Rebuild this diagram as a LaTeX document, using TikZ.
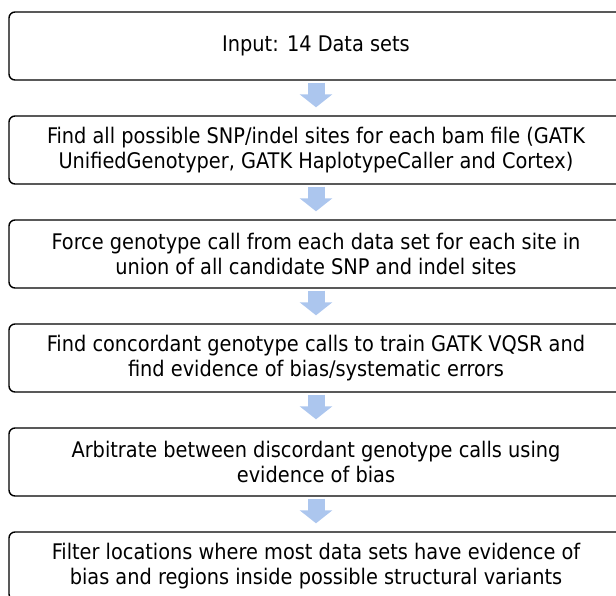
\documentclass[tikz,border=0pt]{standalone}
\usepackage{fontspec}
\setmainfont{DejaVu Sans Condensed}
\usepackage{tikz}
\usetikzlibrary{arrows.meta}

\definecolor{stepblue}{RGB}{172,198,238}

\begin{document}
\begin{tikzpicture}[x=1pt,y=-1pt,
  stepbox/.style={draw,line width=1.4pt,rounded corners=6pt,minimum width=614pt,minimum height=68pt,
    align=center,inner sep=0pt,font=\fontsize{21.5}{25}\selectfont},
  flow/.style={stepblue,line width=17pt,-{Triangle[width=32pt,length=13pt]},shorten <=2pt,shorten >=8pt}]
\useasboundingbox (0,0) rectangle (616,595);
\clip (0,0) rectangle (616,595);
\node[stepbox] (input) at (316,46) {Input: 14 Data sets};
\node[stepbox] (sites) at (316,150) {Find all possible SNP/indel sites for each bam file (GATK\\UnifiedGenotyper, GATK HaplotypeCaller and Cortex)};
\node[stepbox] (force) at (316,254) {Force genotype call from each data set for each site in\\union of all candidate SNP and indel sites};
\node[stepbox] (train) at (316,358) {Find concordant genotype calls to train GATK VQSR and\\find evidence of bias/systematic errors};
\node[stepbox] (arbit) at (316,462) {Arbitrate between discordant genotype calls using\\evidence of bias};
\node[stepbox] (filter) at (316,566) {Filter locations where most data sets have evidence of\\bias and regions inside possible structural variants};
\draw[flow] (input) -- (sites);
\draw[flow] (sites) -- (force);
\draw[flow] (force) -- (train);
\draw[flow] (train) -- (arbit);
\draw[flow] (arbit) -- (filter);
\end{tikzpicture}
\end{document}
